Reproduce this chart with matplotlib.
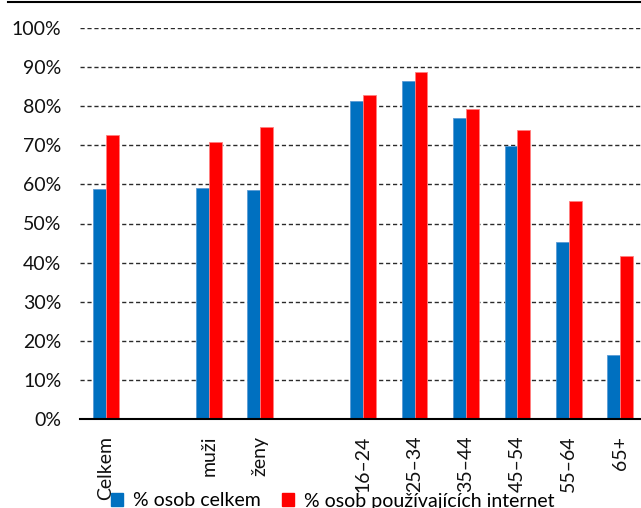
import matplotlib
matplotlib.use("Agg")
import matplotlib.pyplot as plt
from matplotlib.patches import Patch
from matplotlib.lines import Line2D

categories = ["Celkem", "", "muži", "ženy", "", "16–24", "25–34", "35–44", "45–54", "55–64", "65+"]
celkem = [58.8, None, 59.1, 58.5, None, 81.4, 86.4, 76.9, 69.7, 45.3, 16.3]
internet = [72.6, None, 70.8, 74.6, None, 82.9, 88.8, 79.2, 73.9, 55.7, 41.6]
yticks = [0, 10, 20, 30, 40, 50, 60, 70, 80, 90, 100]
series_names = ["% osob celkem", "% osob používajících internet"]

plt.rcParams['font.family'] = ['Lato', 'DejaVu Sans']
FS = 14

W, H = 641, 508
fig = plt.figure(figsize=(W / 100, H / 100), dpi=100)
left, right = 80.3 / W, 646 / W
bottom, top = (H - 419) / H, (H - 28) / H
ax = fig.add_axes([left, bottom, right - left, top - bottom])

blue = "#0070C0"
red = "#FF0000"
bw = 0.25
for i, (b, r) in enumerate(zip(celkem, internet)):
    if b is not None:
        ax.bar(i - bw / 2, b, width=bw, color=blue, edgecolor="#5B9BD5", linewidth=0.6, zorder=3)
    if r is not None:
        ax.bar(i + bw / 2, r, width=bw, color=red, edgecolor="#FF8080", linewidth=0.6, zorder=3)

ax.set_xlim(-0.5, len(categories) - 0.5)
ax.set_ylim(0, 100)
ax.set_yticks(yticks)
ax.set_yticklabels([f"{v}%" for v in yticks], fontsize=FS, color="#111111")
ax.set_xticks(range(len(categories)))
ax.set_xticklabels(categories, rotation=90, fontsize=FS, color="#111111", va="top")
ax.tick_params(axis="both", length=0)
ax.tick_params(axis="x", pad=12)
ax.tick_params(axis="y", pad=13.7)

for v in yticks[1:]:
    ax.axhline(v, color="#2a2a2a", linewidth=1.0, linestyle=(0, (3, 2)), zorder=1)

for s in ["top", "right", "left"]:
    ax.spines[s].set_visible(False)
ax.spines["bottom"].set_color("black")
ax.spines["bottom"].set_linewidth(1.5)
ax.spines["bottom"].set_zorder(4)

fig.add_artist(Line2D([8 / W, 1], [1 - 2 / H, 1 - 2 / H], color="black", linewidth=1.5))

handles = [Patch(facecolor=blue, edgecolor=blue), Patch(facecolor=red, edgecolor=red)]
fig.legend(handles, series_names, loc="center left", bbox_to_anchor=(111 / W, 1 - 501 / H),
           ncol=2, frameon=False, fontsize=FS, handlelength=0.62, handleheight=0.62,
           handletextpad=0.5, columnspacing=1.1, borderpad=0, borderaxespad=0)

fig.savefig("out.png", dpi=100)
